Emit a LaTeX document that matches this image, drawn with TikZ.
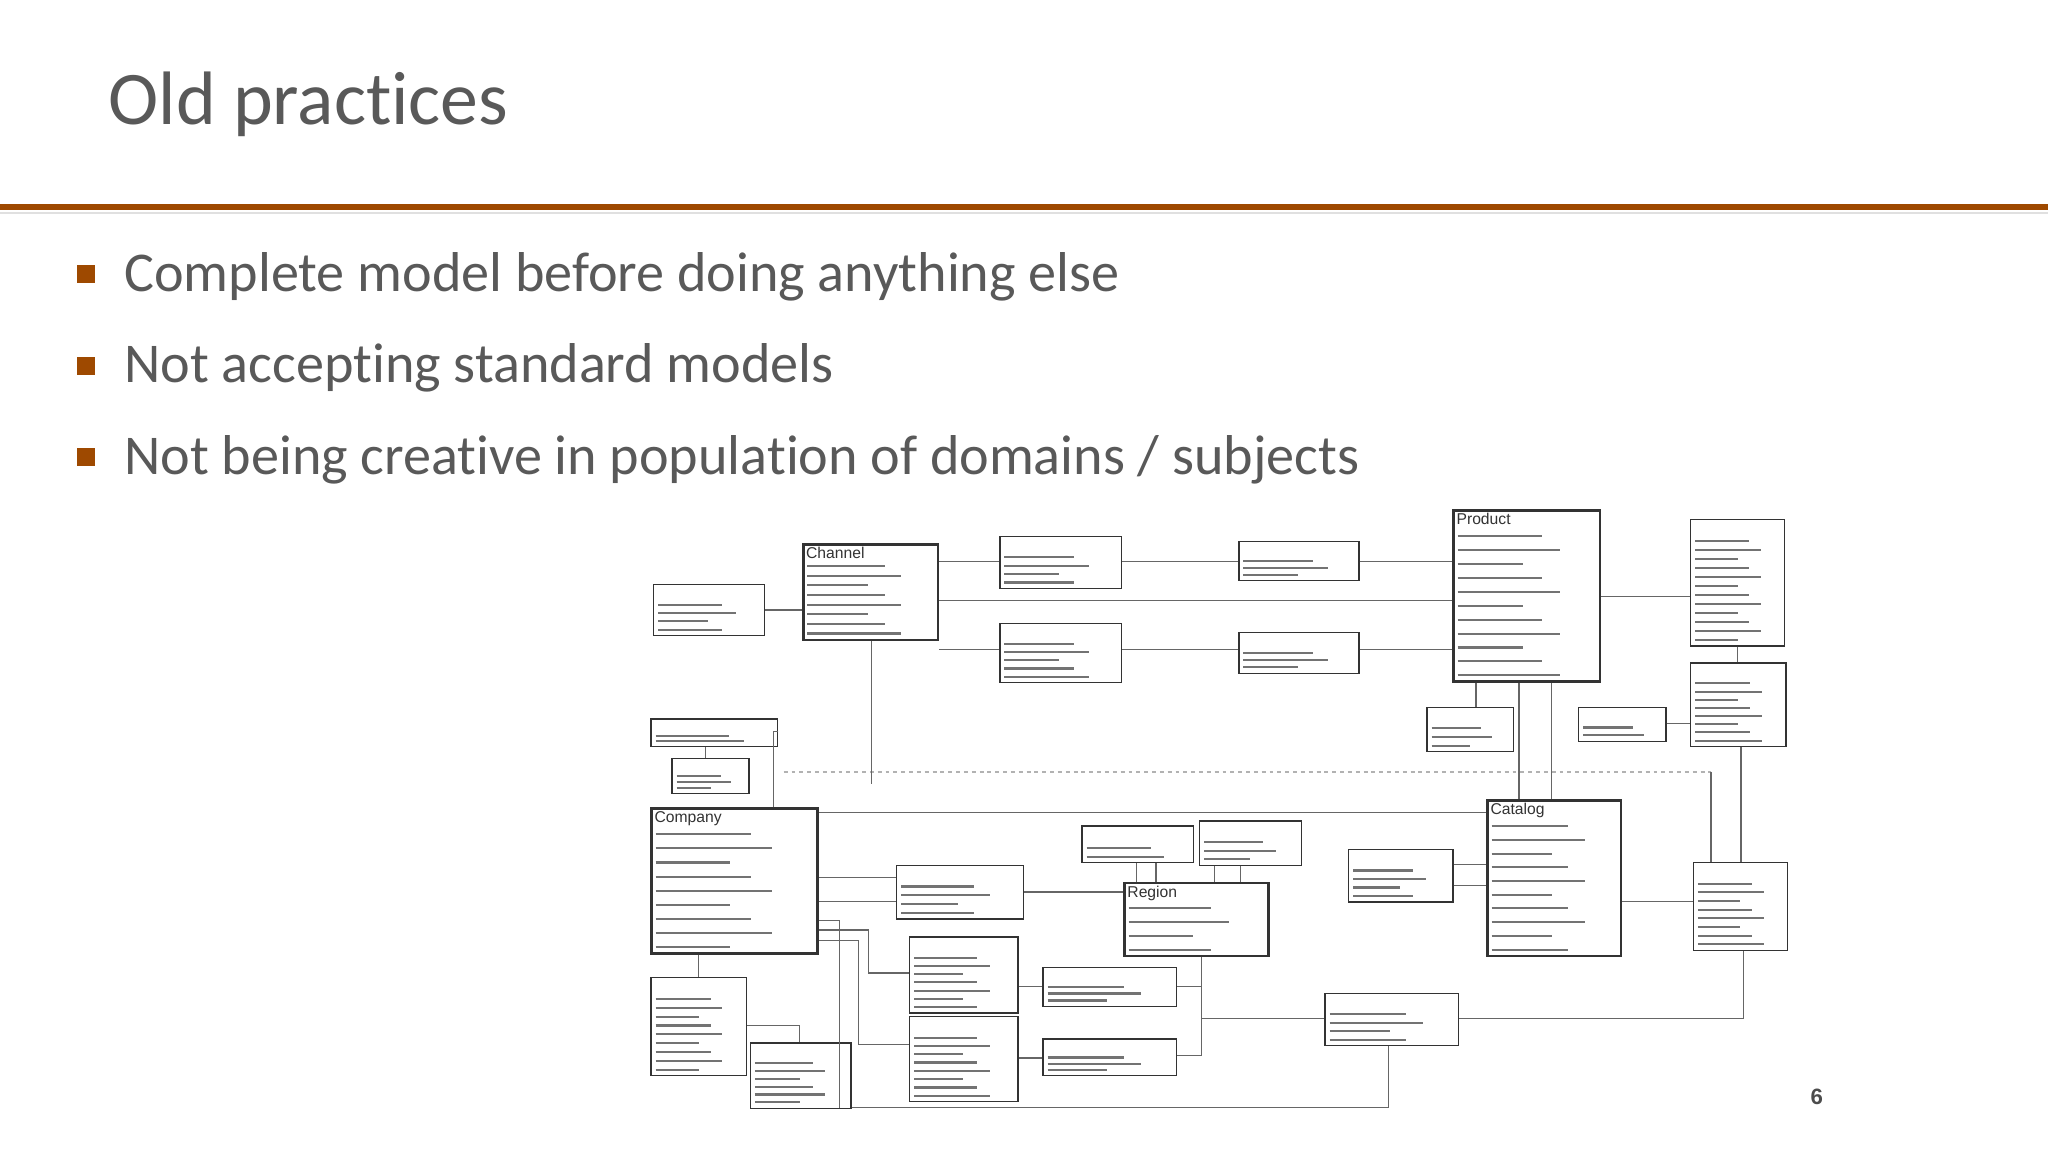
\documentclass[tikz,border=0pt]{standalone}
\usepackage{fontspec}
\setmainfont{Carlito}[RawFeature={-liga;-clig}]
\newfontfamily\erfont{Liberation Sans}
\begin{document}
\begin{tikzpicture}[x=1pt,y=-1pt,
  ent/.style={draw=black!80,line width=1pt,fill=white,anchor=north west,inner sep=0pt},
  big/.style={line width=2pt},
  rowl/.style={draw=black!55,line width=1.6pt},
  con/.style={draw=black!60,line width=0.9pt},
  dot/.style={draw=black!30,line width=0.9pt,dashed},
  ttl/.style={anchor=north west,inner sep=1pt,font=\erfont\fontsize{12}{12}\selectfont,text=black!80}]
\useasboundingbox (0,0) rectangle (1568,882);
\fill[white] (0,0) rectangle (1568,882);
% header
\node[anchor=base west,inner sep=0pt,text=black!65,font=\fontsize{58}{58}\selectfont] (title) at (83,95) {Old practices};
\fill[black!12] (0,162) rectangle (1568,164);
\fill[orange!60!black!95!red] (0,156) rectangle (1568,161);
\foreach \y/\t [count=\i] in {212/{Complete model before doing anything else},282/{Not accepting standard models},352/{Not being creative in population of domains / subjects}}{
  \fill[orange!60!black!95!red] (59,\y-9) rectangle (73,\y+5);
  \node[anchor=west,inner sep=0pt,text=black!65,font=\fontsize{43}{43}\selectfont] (b\i) at (95,\y) {\t};
}
\node[font=\erfont\bfseries\fontsize{17}{17}\selectfont,text=black!70] (pg) at (1391,840) {6};
% entity macro: name, x1,y1,x2,y2, rows, title, style
\newcommand\ent[8]{%
  \node[ent,#8,minimum width=#4-#2,minimum height=#5-#3] (#1) at (#2,#3) {};
  \node[ttl] (#1t) at (#2+2,#3+2) {#7};
  \pgfmathsetmacro\rh{(#5-#3-14)/(#6)}
  \foreach \i in {1,...,#6}{
    \draw[rowl] (#2+4,#3+10+\i*\rh) -- ++({(#4-#2)*(0.45+0.25*mod(\i*7,3)/2)},0);
  }}
\ent{chm}{500}{447}{585}{486}{4}{}{}
\ent{ch}{614}{416}{717}{489}{8}{Channel}{big}
\ent{ca}{765}{410}{858}{450}{4}{}{}
\ent{cb}{765}{477}{858}{522}{5}{}{}
\ent{cc}{948}{414}{1040}{444}{3}{}{}
\ent{cd}{948}{484}{1040}{515}{3}{}{}
\ent{pr}{1112}{390}{1224}{521}{11}{Product}{big}
\ent{rt}{1294}{397}{1366}{494}{12}{}{}
\ent{r2}{1294}{507}{1367}{571}{8}{}{}
\ent{ps}{1092}{541}{1158}{575}{3}{}{}
\ent{ps2}{1208}{541}{1275}{567}{2}{}{}
\ent{l1}{498}{550}{595}{571}{2}{}{}
\ent{l2}{514}{580}{573}{607}{3}{}{}
\ent{co}{498}{618}{625}{729}{9}{Company}{big}
\ent{s1}{686}{662}{783}{703}{4}{}{}
\ent{rc}{828}{632}{913}{660}{2}{}{}
\ent{rr}{918}{628}{996}{662}{3}{}{}
\ent{rg}{860}{675}{970}{731}{4}{Region}{big}
\ent{cl}{1032}{650}{1112}{690}{4}{}{}
\ent{cat}{1138}{612}{1240}{731}{10}{Catalog}{big}
\ent{rl}{1296}{660}{1368}{727}{8}{}{}
\ent{ka}{696}{717}{779}{775}{7}{}{}
\ent{kb}{696}{778}{779}{843}{8}{}{}
\ent{ja}{798}{740}{900}{770}{3}{}{}
\ent{jb}{798}{795}{900}{823}{3}{}{}
\ent{cu}{498}{748}{571}{823}{9}{}{}
\ent{cp}{574}{798}{651}{848}{6}{}{}
\ent{pl}{1014}{760}{1116}{800}{4}{}{}
% connectors
\draw[con] (chm.east) -- (ch.west |- chm.east);
\draw[con] (ch.east |- 0,430) -- (ca.west |- 0,430);
\draw[con] (ca.east |- 0,430) -- (cc.west |- 0,430);
\draw[con] (cc.east |- 0,430) -- (pr.west |- 0,430);
\draw[con] (ch.east |- 0,460) -- (pr.west |- 0,460);
\draw[con] (ch.east |- 0,497) -- (cb.west |- 0,497);
\draw[con] (cb.east |- 0,497) -- (cd.west |- 0,497);
\draw[con] (cd.east |- 0,497) -- (pr.west |- 0,497);
\draw[con] (pr.east |- 0,457) -- (rt.west |- 0,457);
\draw[con] (rt.south -| 1330,0) -- (r2.north -| 1330,0);
\draw[con] (ps2.east |- 0,554) -- (r2.west |- 0,554);
\draw[con] (pr.south -| 1130,0) -- (ps.north -| 1130,0);
\draw[con] (pr.south -| 1163,0) -- (cat.north -| 1163,0);
\draw[con] (pr.south -| 1188,0) -- (cat.north -| 1188,0);
\draw[dot] (600,591) -- (1310,591);
\coordinate (d1) at (1310,591);
\draw[con] (d1) -- (rl.north -| d1);
\draw[con] (r2.south -| 1333,0) -- (rl.north -| 1333,0);
\draw[con] (cat.east |- 0,690) -- (rl.west |- 0,690);
\coordinate (c1) at (667,600);
\draw[con] (ch.south -| c1) -- (c1);
\draw[con] (l1.south -| 540,0) -- (l2.north -| 540,0);
\draw[con] (l1.east |- 0,560) -| (co.north -| 592,0);
\draw[con] (co.east |- 0,622) -- (cat.west |- 0,622);
\draw[con] (co.east |- 0,672) -- (s1.west |- 0,672);
\draw[con] (co.east |- 0,690) -- (s1.west |- 0,690);
\draw[con] (s1.east |- 0,683) -- (rg.west |- 0,683);
\draw[con] (rc.south -| 870,0) -- (rg.north -| 870,0);
\draw[con] (rc.south -| 885,0) -- (rg.north -| 885,0);
\draw[con] (rr.south -| 930,0) -- (rg.north -| 930,0);
\draw[con] (rr.south -| 950,0) -- (rg.north -| 950,0);
\draw[con] (cl.east |- 0,662) -- (cat.west |- 0,662);
\draw[con] (cl.east |- 0,678) -- (cat.west |- 0,678);
\draw[con] (co.south -| 535,0) -- (cu.north -| 535,0);
\draw[con] (co.east |- 0,712) -- (665,712) |- (ka.west |- 0,745);
\draw[con] (co.east |- 0,705) -- (643,705) -- (643,848);
\draw[con] (co.east |- 0,720) -- (657,720) |- (kb.west |- 0,800);
\draw[con] (ka.east |- 0,755) -- (ja.west |- 0,755);
\draw[con] (kb.east |- 0,810) -- (jb.west |- 0,810);
\draw[con] (rg.south -| 920,0) -- (920,808);
\draw[con] (ja.east |- 0,755) -- (920,755);
\draw[con] (jb.east |- 0,808) -- (920,808);
\draw[con] (920,780) -- (pl.west |- 0,780);
\draw[con] (pl.east |- 0,780) -| (rl.south -| 1335,0);
\draw[con] (cu.east |- 0,785) -- (612,785) -- (cp.north -| 612,0);
\draw[con] (cp.east |- 0,848) -- (1063,848) -- (pl.south -| 1063,0);
\end{tikzpicture}
\end{document}
